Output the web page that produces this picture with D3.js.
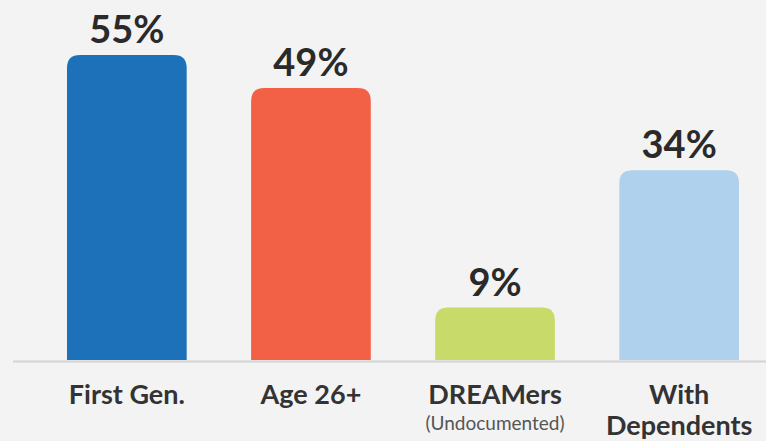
<!DOCTYPE html>
<html>
<head>
<meta charset="utf-8">
<script src="https://cdn.jsdelivr.net/npm/d3@7"></script>
<style>
  body { margin: 0; background: #f3f3f3; }
  svg text { font-family: Lato, "Open Sans", sans-serif; }
</style>
</head>
<body>
<script>
var g_width = 766
var g_height = 441
var g_base = 360

var categories = ["First Gen.", "Age 26+", "DREAMers", "With Dependents"]
var values = [55, 49, 9, 34]
var colors = ["#1c71b8", "#f26145", "#c7da6a", "#afd1ee"]
// first/second label lines under each bar
var labelLines = [["First Gen."], ["Age 26+"], ["DREAMers", "(Undocumented)"], ["With", "Dependents"]]

var svg = d3.select("body")
  .append("svg")
  .attr("width", g_width)
  .attr("height", g_height)
  .style("background-color", "#f3f3f3");

var xScale = d3.scaleBand().domain(categories).range([67, 739]).paddingInner(0.35).paddingOuter(0);
var yScale = d3.scaleLinear().domain([0, 55]).range([357, 55]);

function topRounded(x, y, w, h, r) {
  return "M" + x + "," + (y + h) +
    "V" + (y + r) +
    "Q" + x + "," + y + " " + (x + r) + "," + y +
    "H" + (x + w - r) +
    "Q" + (x + w) + "," + y + " " + (x + w) + "," + (y + r) +
    "V" + (y + h) + "Z";
}

// bars
svg.selectAll(".bar")
  .data(categories)
  .enter().append("path")
  .attr("class", "bar")
  .attr("fill", function(d, i) { return colors[i]; })
  .attr("d", function(d, i) {
    var top = yScale(values[i]);
    return topRounded(xScale(d), top, xScale.bandwidth(), g_base - top, 13);
  });

// baseline
svg.append("line")
  .attr("x1", 13).attr("x2", g_width)
  .attr("y1", g_base + 1.5).attr("y2", g_base + 1.5)
  .attr("stroke", "#d4d4d4")
  .attr("stroke-width", 2);

// value labels
svg.selectAll(".val")
  .data(categories)
  .enter().append("text")
  .attr("class", "val")
  .attr("x", function(d) { return xScale(d) + xScale.bandwidth() / 2; })
  .attr("y", function(d, i) { return yScale(values[i]) - 12; })
  .attr("text-anchor", "middle")
  .attr("font-size", 38)
  .attr("font-weight", 700)
  .attr("fill", "#2a2a2a")
  .text(function(d, i) { return values[i] + "%"; });

// category labels
categories.forEach(function(c, i) {
  var cx = xScale(c) + xScale.bandwidth() / 2;
  var lines = labelLines[i];
  var t = svg.append("text")
    .attr("x", cx)
    .attr("text-anchor", "middle");
  t.append("tspan")
    .attr("x", cx)
    .attr("y", 404)
    .attr("font-size", 27)
    .attr("font-weight", 700)
    .attr("fill", "#333")
    .text(lines[0]);
  if (lines.length > 1) {
    var sub = lines[1] === "(Undocumented)";
    t.append("tspan")
      .attr("x", cx)
      .attr("y", sub ? 430 : 435)
      .attr("font-size", sub ? 19 : 27)
      .attr("font-weight", sub ? 400 : 700)
      .attr("fill", sub ? "#555" : "#333")
      .text(lines[1]);
  }
});
</script>
</body>
</html>
